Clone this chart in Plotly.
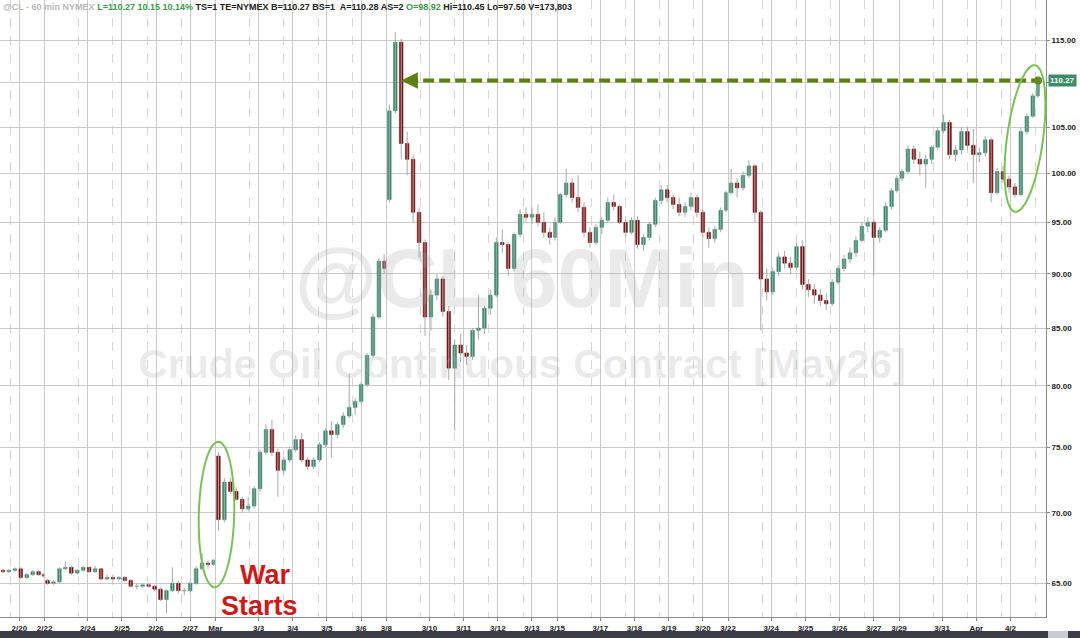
import math
from datetime import datetime, timedelta
import plotly.graph_objects as go

# ----------------------------- data (4-hour candles) -----------------------------
candle_open = [
    65.9, 65.8, 65.9, 66.0, 65.4, 65.6, 65.8, 65.6,
    65.2, 65.0, 65.1, 66.0, 66.1, 65.7, 65.9, 66.1, 65.8, 66.0, 65.3, 65.4, 65.3, 65.4, 65.2, 64.8, 64.8, 64.9, 64.8, 64.6, 63.9, 64.5, 65.0, 64.5, 64.5, 65.0, 66.0, 66.4, 66.3,
    74.3, 69.5, 72.3, 71.6, 71.0, 70.3, 70.5, 71.8, 74.6, 76.4, 74.6, 73.2, 74.0, 74.8, 75.6, 74.0, 73.5, 74.0, 75.2, 76.3, 76.0, 76.8, 77.5, 78.2, 78.7, 80.1, 82.6, 86.0, 91.2,
    97.3, 106.8, 114.8, 103.2, 101.5, 96.0, 93.0, 86.0, 88.0, 89.5, 86.5, 81.5, 83.5, 82.8, 82.5, 84.8, 85.0, 86.8, 88.0, 93.0, 92.8, 90.5, 93.8, 95.8, 95.5, 95.8, 95.0, 94.0, 93.5,
    95.0, 97.8, 99.0, 97.5, 96.5, 94.0, 93.0, 94.5, 95.2, 97.0, 96.6, 95.0, 94.0, 95.2, 92.8, 93.5, 94.8, 97.2, 98.3, 97.5, 96.8, 96.0, 96.6, 97.5, 96.0, 94.0, 93.4, 94.3, 96.2,
    98.0, 99.0, 98.5, 99.8, 100.8, 96.0, 89.5, 88.3, 90.2, 91.6, 91.0, 90.6, 92.6, 89.0, 88.5, 88.0, 87.5, 87.2, 89.2, 90.5, 91.4, 92.0, 93.2, 94.6, 95.0, 93.5, 94.2, 96.6, 98.2,
    99.5, 100.2, 102.6, 101.5, 101.0, 101.5, 102.8, 104.6, 105.5, 102.0, 102.5, 104.5, 103.0, 102.0, 102.2, 103.6, 98.0, 100.2, 99.4, 98.6, 97.8, 104.5, 106.2, 108.5,
]
candle_high = [
    66.0, 66.0, 66.1, 66.1, 65.7, 65.9, 65.9, 65.7,
    65.3, 65.2, 66.1, 66.5, 66.2, 66.0, 66.2, 66.1, 66.2, 66.0, 65.6, 65.6, 65.5, 65.5, 65.3, 65.0, 65.0, 65.0, 64.9, 64.7, 64.6, 66.1, 65.2, 64.7, 65.1, 66.2, 67.1, 66.6, 66.7,
    74.6, 72.6, 72.6, 71.9, 71.2, 71.2, 72.0, 74.8, 76.8, 77.2, 74.9, 74.2, 75.0, 75.9, 76.1, 74.2, 74.2, 75.4, 76.5, 77.1, 77.0, 77.8, 81.0, 79.0, 80.3, 82.8, 86.3, 91.5, 91.9,
    107.5, 116.0, 115.2, 104.5, 102.0, 96.5, 93.3, 88.5, 90.0, 89.8, 87.0, 84.0, 84.5, 83.5, 85.0, 88.0, 87.0, 88.5, 93.5, 94.3, 93.0, 94.0, 96.3, 96.5, 96.5, 96.8, 96.0, 94.5, 95.5,
    98.0, 100.5, 99.5, 99.8, 97.0, 94.5, 94.8, 95.5, 97.5, 97.8, 96.8, 95.3, 95.5, 95.6, 93.8, 95.0, 97.5, 98.8, 98.8, 97.8, 97.5, 97.0, 98.0, 97.8, 96.3, 94.5, 94.6, 96.5, 98.2,
    100.5, 99.5, 100.2, 101.4, 101.0, 96.2, 90.5, 90.5, 92.0, 92.2, 91.6, 93.0, 93.2, 89.5, 89.0, 88.6, 88.2, 89.5, 90.8, 91.8, 92.5, 93.6, 95.0, 95.5, 95.2, 94.5, 97.0, 98.5, 99.8,
    100.5, 103.0, 103.0, 102.3, 102.0, 103.0, 105.0, 106.4, 105.8, 103.0, 105.0, 105.0, 104.8, 102.8, 104.0, 103.8, 100.6, 100.8, 99.8, 99.0, 105.0, 106.5, 108.8, 110.45,
]
candle_low = [
    65.7, 65.7, 65.8, 65.3, 65.3, 65.5, 65.5, 65.4,
    64.9, 64.9, 65.0, 65.9, 65.6, 65.6, 65.8, 65.7, 65.7, 65.2, 65.2, 65.2, 65.2, 65.1, 64.7, 64.6, 64.7, 64.7, 64.5, 63.8, 63.0, 64.4, 64.3, 64.2, 64.4, 64.9, 65.9, 66.0, 66.2,
    68.7, 69.3, 71.4, 70.9, 70.0, 70.1, 70.3, 71.6, 74.4, 74.3, 71.2, 72.9, 73.8, 74.6, 73.8, 73.2, 73.3, 73.8, 75.0, 74.2, 75.7, 76.5, 77.3, 77.6, 78.5, 79.9, 82.4, 85.8, 90.0,
    97.0, 106.5, 101.5, 99.8, 95.0, 91.5, 84.3, 84.8, 87.5, 86.0, 80.5, 76.3, 82.0, 81.8, 82.2, 84.0, 84.5, 86.2, 87.8, 92.0, 89.8, 90.2, 93.5, 95.0, 94.8, 94.6, 93.5, 92.8, 93.2,
    94.8, 97.5, 97.0, 96.0, 93.5, 92.5, 92.8, 93.8, 95.0, 96.2, 94.8, 93.6, 93.8, 92.4, 92.2, 93.2, 94.5, 96.8, 97.0, 96.3, 95.6, 95.5, 96.2, 95.5, 93.5, 92.5, 93.0, 94.0, 96.0,
    97.8, 97.5, 98.2, 99.5, 95.0, 84.8, 87.5, 88.0, 89.8, 90.5, 90.0, 90.4, 88.5, 87.8, 87.2, 87.0, 86.6, 87.0, 89.0, 90.2, 91.0, 91.6, 93.0, 94.0, 89.8, 93.0, 94.0, 96.3, 98.0,
    99.2, 100.0, 101.0, 99.8, 98.5, 101.0, 102.5, 104.3, 101.5, 101.3, 102.0, 102.5, 99.0, 101.2, 101.8, 97.0, 97.8, 99.0, 98.0, 97.5, 97.6, 104.2, 106.0, 108.3,
]
candle_close = [
    65.8, 65.9, 66.0, 65.4, 65.6, 65.8, 65.6, 65.5,
    65.0, 65.1, 66.0, 66.1, 65.7, 65.9, 66.1, 65.8, 66.0, 65.3, 65.4, 65.3, 65.4, 65.2, 64.8, 64.8, 64.9, 64.8, 64.6, 63.9, 64.5, 65.0, 64.5, 64.5, 65.0, 66.0, 66.4, 66.3, 66.6,
    69.5, 72.3, 71.6, 71.0, 70.3, 70.5, 71.8, 74.6, 76.4, 74.6, 73.2, 74.0, 74.8, 75.6, 74.0, 73.5, 74.0, 75.2, 76.3, 76.0, 76.8, 77.5, 78.2, 78.7, 80.1, 82.6, 86.0, 91.2, 90.5,
    106.8, 114.8, 103.2, 101.5, 96.0, 93.0, 86.0, 88.0, 89.5, 86.5, 81.5, 83.5, 82.8, 82.5, 84.8, 85.0, 86.8, 88.0, 93.0, 92.8, 90.5, 93.8, 95.8, 95.5, 95.8, 95.0, 94.0, 93.5, 95.0,
    97.8, 99.0, 97.5, 96.5, 94.0, 93.0, 94.5, 95.2, 97.0, 96.6, 95.0, 94.0, 95.2, 92.8, 93.5, 94.8, 97.2, 98.3, 97.5, 96.8, 96.0, 96.6, 97.5, 96.0, 94.0, 93.4, 94.3, 96.2, 98.0,
    99.0, 98.5, 99.8, 100.8, 96.0, 89.5, 88.3, 90.2, 91.6, 91.0, 90.6, 92.6, 89.0, 88.5, 88.0, 87.5, 87.2, 89.2, 90.5, 91.4, 92.0, 93.2, 94.6, 95.0, 93.5, 94.2, 96.6, 98.2, 99.5,
    100.2, 102.6, 101.5, 101.0, 101.5, 102.8, 104.6, 105.5, 102.0, 102.5, 104.5, 103.0, 102.0, 102.2, 103.6, 98.0, 100.2, 99.4, 98.6, 97.8, 104.5, 106.2, 108.5, 110.27,
]
y_tick_values = [65, 70, 75, 80, 85, 90, 95, 100, 105, 110, 115]
first_bar = datetime(2026, 2, 19, 10)
last_bar = datetime(2026, 4, 2, 20)
watermark_1 = "@CL 60Min"
watermark_2 = "Crude Oil Continuous Contract [May26]"

# ----------------------------- trading calendar (NYMEX hours) -----------------------------
def is_trading(t):
    wd = t.weekday()
    if wd == 5:
        return False
    if wd == 6:
        return t.hour >= 18
    if wd == 4:
        return t.hour < 17
    return t.hour != 17

hours = []
t = first_bar
while t <= last_bar:
    if is_trading(t):
        hours.append(t)
    t += timedelta(hours=1)

# group hourly slots into 4-hour candles, restarting each weekly session
groups, prev_key, week, pos = [], None, 0, 0
for i, t in enumerate(hours):
    if i > 0 and (t - hours[i - 1]) > timedelta(hours=20):
        week += 1
        pos = 0
    key = (week, pos // 4)
    if key != prev_key:
        groups.append([])
        prev_key = key
    groups[-1].append(i)
    pos += 1
candle_x = [(g[0] + g[-1]) / 2 for g in groups]
candle_span = [len(g) for g in groups]
assert len(candle_x) == len(candle_close)

tick_x, tick_text, session_x = [], [], []
for i, t in enumerate(hours):
    lab = t.strftime("%b") if t.day == 1 else f"{t.month}/{t.day}"
    if t.weekday() == 6 and t.hour == 18:
        tick_x.append(i - 0.5); tick_text.append(lab)
    elif t.hour == 0 and t.weekday() in (1, 2, 3, 4):
        tick_x.append(i - 0.5); tick_text.append(lab)
    if t.hour == 18 and t.weekday() in (0, 1, 2, 3):
        session_x.append(i - 0.5)

# ----------------------------- geometry -----------------------------
W, H = 1080, 638
ML, MR, MT, MB = 0, 34, 0, 21
PW, PH = W - ML - MR, H - MT - MB
PX_PER_HOUR = 1.486
X0 = -0.5
X1 = X0 + PW / PX_PER_HOUR
LY0, LY1 = math.log10(62.74), math.log10(120.0)

def px_x(px):
    return X0 + px / PW * (X1 - X0)

def py_price(py):
    return 10 ** (LY1 - py / PH * (LY1 - LY0))

def paper_x(px):
    return px / PW

def paper_y(py):
    return 1 - py / PH

def ellipse_path(cx, cy, rx, ry, tilt_deg, n=72):
    th = math.radians(tilt_deg)
    pts = []
    for k in range(n + 1):
        a = 2 * math.pi * k / n
        u, v = rx * math.cos(a), ry * math.sin(a)
        px = cx + u * math.cos(th) + v * math.sin(th)
        py = cy + u * math.sin(th) - v * math.cos(th)
        pts.append(f"{paper_x(px):.5f},{paper_y(py):.5f}")
    return "M " + " L ".join(pts) + " Z"

GREEN = "#3b8c6e"
RED = "#7a1414"
WICK = "#a8a8a8"
OLIVE = "#5e7f14"
ELLIPSE = "#79c257"
FONT = "Liberation Sans, Arial"

fig = go.Figure()

# watermark (drawn first, under the candles)
fig.add_trace(go.Scatter(x=[px_x(522)], y=[py_price(286)], mode="text", text=[watermark_1],
                         textfont=dict(family=FONT, size=84, color="rgba(160,160,160,0.22)", weight="bold"),
                         hoverinfo="skip"))
fig.add_trace(go.Scatter(x=[px_x(522)], y=[py_price(368)], mode="text", text=[watermark_2],
                         textfont=dict(family=FONT, size=41, color="rgba(160,160,160,0.22)", weight="bold"),
                         hoverinfo="skip"))

# wicks (grey high-low segments)
wx, wy = [], []
for x, lo, hi in zip(candle_x, candle_low, candle_high):
    wx += [x, x, None]
    wy += [lo, hi, None]
fig.add_trace(go.Scatter(x=wx, y=wy, mode="lines", line=dict(color=WICK, width=1), hoverinfo="skip"))

# candle bodies (open-close)
body_colors = [GREEN if c >= o else RED for o, c in zip(candle_open, candle_close)]
fig.add_trace(go.Bar(
    x=candle_x,
    base=[min(o, c) for o, c in zip(candle_open, candle_close)],
    y=[abs(c - o) for o, c in zip(candle_open, candle_close)],
    width=[s * 0.6 for s in candle_span],
    marker=dict(color=body_colors, line=dict(color=body_colors, width=0.6)),
    hoverinfo="skip"))

# dashed arrow from the latest price back to the 3/8 spike
last_price = candle_close[-1]
peak_idx = max(range(len(candle_high)), key=lambda k: candle_high[k])
target_x = candle_x[peak_idx + 1]
fig.add_trace(go.Scatter(x=[target_x + 4, candle_x[-1]], y=[last_price, last_price], mode="lines",
                         line=dict(color=OLIVE, width=4, dash="11px,5px"), hoverinfo="skip"))
fig.add_trace(go.Scatter(x=[candle_x[-1]], y=[last_price], mode="markers",
                         marker=dict(color="#5f8a1c", size=8), hoverinfo="skip"))

shapes = [
    dict(type="path", xref="paper", yref="paper", path=ellipse_path(216.5, 514.5, 17.7, 72.8, 1.5),
         line=dict(color=ELLIPSE, width=2)),
    dict(type="path", xref="paper", yref="paper", path=ellipse_path(1025, 138.5, 18, 74, 7.7),
         line=dict(color=ELLIPSE, width=2)),
    # bottom scroll bar
    dict(type="rect", xref="paper", yref="paper", x0=0, x1=W / PW, y0=paper_y(H + 2), y1=paper_y(631),
         line=dict(width=0), fillcolor="#3b3e46", layer="above"),
    dict(type="rect", xref="paper", yref="paper", x0=paper_x(1048), x1=paper_x(1068), y0=paper_y(H + 2), y1=paper_y(631),
         line=dict(width=0), fillcolor="#c9ccd3", layer="above"),
]

header = ('<span style="color:#b8b8b8">@CL - 60 min NYMEX</span> '
          '<span style="color:#3d9a4e">L=110.27 10.15 10.14%</span> '
          'TS=1 TE=NYMEX B=110.27 BS=1&nbsp; A=110.28 AS=2 '
          '<span style="color:#3d9a4e">O=98.92</span> Hi=110.45 Lo=97.50 V=173,803')

annotations = [
    dict(xref="paper", yref="paper", x=0.001, y=1, xanchor="left", yanchor="top", showarrow=False,
         text=header, font=dict(family=FONT, size=9, color="#222222", weight="bold")),
    dict(xref="paper", yref="paper", x=paper_x(265), y=paper_y(575), xanchor="center", yanchor="middle",
         showarrow=False, text="War", font=dict(family=FONT, size=27, color="#cc1a1a", weight="bold")),
    dict(xref="paper", yref="paper", x=paper_x(259), y=paper_y(606), xanchor="center", yanchor="middle",
         showarrow=False, text="Starts", font=dict(family=FONT, size=27, color="#cc1a1a", weight="bold")),
    # arrow head
    dict(xref="x", yref="y", x=target_x, y=math.log10(last_price), ax=16, ay=0, showarrow=True,
         arrowhead=2, arrowsize=0.95, arrowwidth=3.5, arrowcolor=OLIVE, text=""),
    # last price tag
    dict(xref="paper", yref="y", x=1, y=math.log10(last_price), xanchor="left", yanchor="middle", xshift=2,
         showarrow=False, text=f"{last_price:.2f}", bgcolor="#3d8c69", borderpad=1,
         font=dict(family=FONT, size=8, color="white", weight="bold")),
]

fig.update_layout(
    width=W, height=H,
    margin=dict(l=ML, r=MR, t=MT, b=MB),
    paper_bgcolor="white", plot_bgcolor="white",
    showlegend=False, hovermode=False,
    shapes=shapes, annotations=annotations,
    xaxis=dict(
        range=[X0, X1], tickmode="array", tickvals=tick_x, ticktext=tick_text,
        showgrid=True, gridcolor="#c9c9c9", gridwidth=1, zeroline=False,
        showline=True, linecolor="#8a8a8a", ticks="outside", ticklen=3, tickcolor="#8a8a8a",
        tickfont=dict(family=FONT, size=8, color="#222222", weight="bold"),
        fixedrange=True,
        minor=dict(tickmode="array", tickvals=session_x, showgrid=True, gridcolor="#d6d6d6",
                   griddash="dash", gridwidth=1, ticks=""),
    ),
    yaxis=dict(
        type="log", side="right", range=[LY0, LY1], tickmode="array", tickvals=y_tick_values,
        ticktext=["" if v == 110 else f"{v:.2f}" for v in y_tick_values],
        showgrid=True, gridcolor="#c9c9c9", gridwidth=1, zeroline=False,
        showline=True, linecolor="#8a8a8a", ticks="outside", ticklen=3, tickcolor="#8a8a8a",
        tickfont=dict(family=FONT, size=8, color="#222222", weight="bold"),
        fixedrange=True,
    ),
)

fig.write_html("out.html", config={"displayModeBar": False},
               post_script="document.body.style.margin='0';document.body.style.overflow='hidden';")
